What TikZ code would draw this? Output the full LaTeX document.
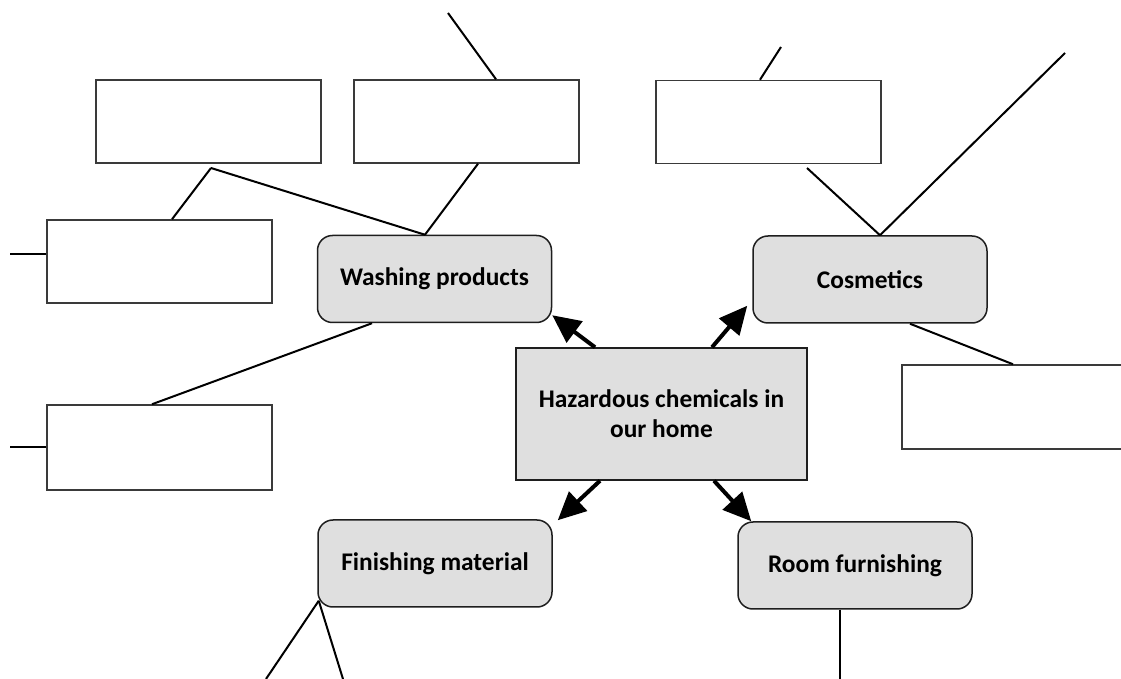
\documentclass[tikz,border=0pt]{standalone}
\usepackage{fontspec}
\setmainfont{Carlito}
\usetikzlibrary{arrows.meta,calc}
\definecolor{nodegray}{HTML}{DFDFDF}
\definecolor{edgedark}{HTML}{1E1E1E}
\definecolor{boxedge}{HTML}{3A3A3A}
\begin{document}
\begin{tikzpicture}[x=0.5pt,y=-0.5pt,
  topic/.style={draw=edgedark,line width=0.75pt,fill=nodegray,rounded corners=7.5pt,
    inner sep=0pt,minimum width=117pt,minimum height=43.5pt,
    font=\fontsize{12.7pt}{15pt}\selectfont\bfseries},
  hub/.style={draw=edgedark,line width=0.75pt,fill=nodegray,inner sep=0pt,
    minimum width=145.5pt,minimum height=66pt,align=center,
    font=\fontsize{12.7pt}{15pt}\selectfont\bfseries},
  blank/.style={draw=boxedge,line width=0.75pt,fill=white,inner sep=0pt,
    minimum width=112.5pt,minimum height=41.5pt},
  link/.style={draw=black,line width=1pt},
  spoke/.style={draw=black,line width=2pt,-{Triangle[length=14pt,width=13pt]}}]
\clip (0,0) rectangle (1121,679);
\fill[white] (0,0) rectangle (1121,679);
% gray topic nodes
\node[hub] (hub) at (661.5,414) {Hazardous chemicals in\\our home};
\node[topic] (wash) at (434.5,279) {Washing products};
\node[topic] (cos) at (870,279.5) {Cosmetics};
\node[topic] (fin) at (435,563.5) {Finishing material};
\node[topic] (room) at (855,565.5) {Room furnishing};
% blank boxes
\node[blank] (A) at (208.5,121.5) {};
\node[blank] (B) at (466.5,121.5) {};
\node[blank] (C) at (768.5,122) {};
\node[blank] (D) at (159.5,261.5) {};
\node[blank,minimum height=42.5pt] (E) at (159.5,447.5) {};
\node[blank,minimum width=119pt,minimum height=42pt] (F) at (1021,407) {};
% free ends and junctions
\coordinate (J1) at (211,168);
\coordinate (Bfree) at (448,13);
\coordinate (Cfree) at (781,47);
\coordinate (Cjoin) at (807,168);
\coordinate (Kfree) at (1065,53);
\coordinate (Dfree) at (10,254);
\coordinate (Efree) at (10,447.5);
\coordinate (Fin1) at (266,679);
\coordinate (Fin2) at (343,679);
\coordinate (Roomfree) at (840,679);
% thin connectors
\draw[link] (J1) -- ($(D.north)+(12.5,0)$);
\draw[link] (J1) -- ($(wash.north)+(-9.5,0)$);
\draw[link] ($(wash.north)+(-9.5,0)$) -- ($(B.south)+(11.5,0)$);
\draw[link] ($(B.north)+(29.5,0)$) -- (Bfree);
\draw[link] ($(C.north)+(-8.5,0)$) -- (Cfree);
\draw[link] ($(cos.north)+(10,0)$) -- (Cjoin);
\draw[link] ($(cos.north)+(10,0)$) -- (Kfree);
\draw[link] ($(cos.south)+(40,0)$) -- ($(F.north)+(-8,0)$);
\draw[link] ($(wash.south)+(-62.5,0)$) -- ($(E.north)+(-7.5,0)$);
\draw[link] ($(D.west)+(0,-7.5)$) -- (Dfree);
\draw[link] (E.west) -- (Efree);
\draw[link] ($(fin.south west)+(1.5,-7)$) -- (Fin1);
\draw[link] ($(fin.south west)+(1.5,-7)$) -- (Fin2);
\draw[link] ($(room.south)+(-15,0)$) -- (Roomfree);
% arrows from the hub
\draw[spoke] ($(hub.north)+(-66.5,0)$) -- ($(wash.south east)+(0,-8)$);
\draw[spoke] ($(hub.north)+(50.5,0)$) -- ($(cos.south west)+(-5,-18)$);
\draw[spoke] ($(hub.south)+(-61.5,0)$) -- ($(fin.north east)+(5,1)$);
\draw[spoke] ($(hub.south)+(52.5,0)$) -- ($(room.north west)+(14,0)$);
\end{tikzpicture}
\end{document}
